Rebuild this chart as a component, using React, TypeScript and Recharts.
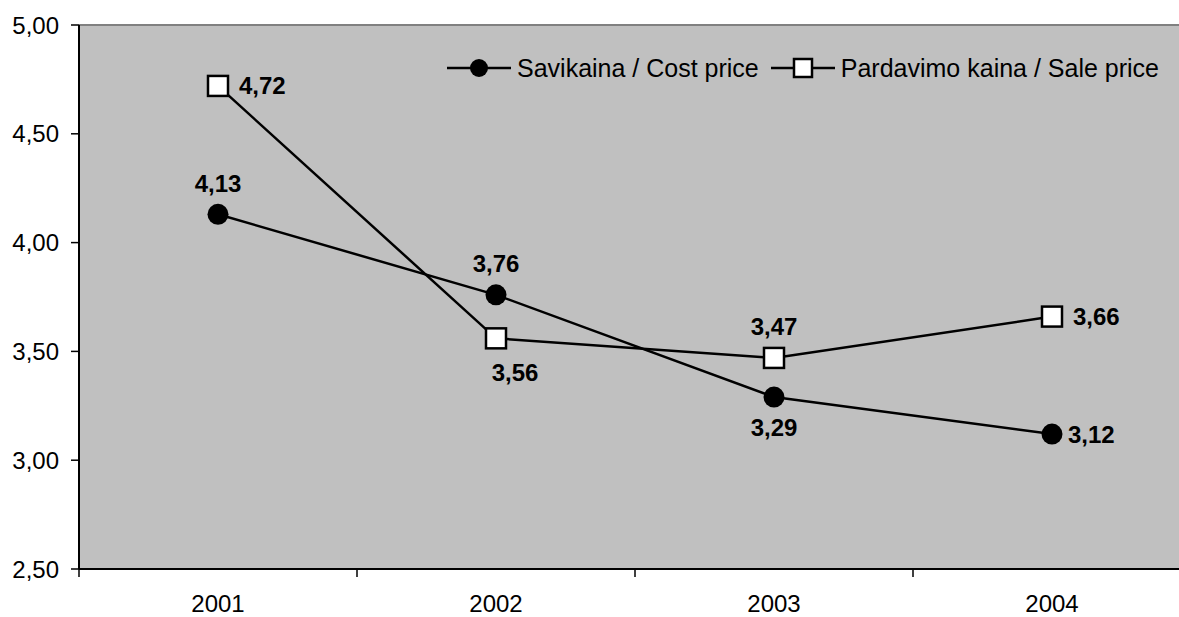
import React from "react";
import {
  LineChart,
  Line,
  XAxis,
  YAxis,
  CartesianGrid,
  ReferenceLine,
  Legend,
  LabelList,
} from "recharts";

const years = ["2001", "2002", "2003", "2004"];
const costPrice = [4.13, 3.76, 3.29, 3.12];
const salePrice = [4.72, 3.56, 3.47, 3.66];
const yTicks = [2.5, 3.0, 3.5, 4.0, 4.5, 5.0];

// where each value label sits relative to its point
const costLabelPos = ["top", "top", "bottom", "right"];
const saleLabelPos = ["right", "bottomRight", "top", "right"];

const data = years.map((year, i) => ({
  year,
  cost: costPrice[i],
  sale: salePrice[i],
}));

const FONT = '"Liberation Sans", Arial, sans-serif';
const fmt = (v: number) => v.toFixed(2).replace(".", ",");

const CostDot = (props: any) => {
  const { cx, cy, index } = props;
  return <circle key={`c-${index}`} cx={cx} cy={cy} r={10.5} fill="#000" />;
};

const SaleDot = (props: any) => {
  const { cx, cy, index } = props;
  return (
    <rect
      key={`s-${index}`}
      x={cx - 10}
      y={cy - 10}
      width={20}
      height={20}
      fill="#fff"
      stroke="#000"
      strokeWidth={2.5}
    />
  );
};

const makeLabel = (positions: string[], side: number) => (props: any) => {
  const { x, y, value, index } = props;
  const pos = positions[index];
  let tx = x;
  let ty = y;
  let anchor: "middle" | "start" = "middle";
  if (pos === "top") ty = y - 31;
  else if (pos === "bottom") ty = y + 30;
  else if (pos === "right") {
    tx = x + side;
    anchor = "start";
  } else if (pos === "bottomRight") {
    tx = x + 19;
    ty = y + 34;
  }
  return (
    <text
      x={tx}
      y={ty}
      textAnchor={anchor}
      dominantBaseline="central"
      fontFamily={FONT}
      fontSize={24}
      fontWeight="bold"
      fill="#000"
    >
      {fmt(value)}
    </text>
  );
};

const XTick = (props: any) => {
  const { x, y, payload, width, visibleTicksCount } = props;
  const half =
    width && visibleTicksCount
      ? width / visibleTicksCount / 2
      : payload.offset || 0;
  const axisY = y - 8 - 16;
  return (
    <g>
      <line
        x1={x - half}
        x2={x - half}
        y1={axisY}
        y2={axisY + 8}
        stroke="#000"
        strokeWidth={1.5}
      />
      <text
        x={x}
        y={axisY + 43}
        textAnchor="middle"
        fontFamily={FONT}
        fontSize={24}
        fill="#000"
      >
        {payload.value}
      </text>
    </g>
  );
};

const LegendContent = () => {
  const item = (marker: React.ReactNode, label: string) => (
    <div style={{ display: "flex", alignItems: "center" }}>
      <svg width={64} height={30}>
        <line x1={0} x2={64} y1={15} y2={15} stroke="#000" strokeWidth={2.5} />
        {marker}
      </svg>
      <span style={{ marginLeft: 6, marginRight: 12 }}>{label}</span>
    </div>
  );
  return (
    <div
      style={{
        display: "flex",
        fontFamily: FONT,
        fontSize: 25,
        color: "#000",
        lineHeight: "30px",
      }}
    >
      {item(<circle cx={32} cy={15} r={9} fill="#000" />, "Savikaina / Cost price")}
      {item(
        <rect x={23} y={6} width={18} height={18} fill="#fff" stroke="#000" strokeWidth={2.5} />,
        "Pardavimo kaina / Sale price"
      )}
    </div>
  );
};

export default function App() {
  return (
    <div
      style={{
        position: "fixed",
        left: 0,
        top: 0,
        width: 1179,
        height: 617,
        overflow: "hidden",
        background: "#fff",
      }}
    >
      <LineChart
        width={1200}
        height={617}
        data={data}
        margin={{ top: 25, right: 9, left: 0, bottom: 0 }}
      >
        <CartesianGrid
          horizontal={false}
          vertical={false}
          fill="#c0c0c0"
          fillOpacity={1}
        />
        <ReferenceLine y={5} stroke="#808080" strokeWidth={2} />
        <XAxis
          dataKey="year"
          height={48}
          padding={{ left: 139, right: 139 }}
          axisLine={{ stroke: "#000", strokeWidth: 2 }}
          tickLine={false}
          tickSize={8}
          tickMargin={16}
          tick={<XTick />}
          interval={0}
        />
        <YAxis
          width={79}
          domain={[2.5, 5]}
          ticks={yTicks}
          tickFormatter={fmt}
          axisLine={{ stroke: "#000", strokeWidth: 2 }}
          tickLine={{ stroke: "#000", strokeWidth: 1.5 }}
          tickSize={8}
          tickMargin={12}
          tick={{ fontFamily: FONT, fontSize: 24, fill: "#000" }}
          allowDataOverflow
        />
        <Legend
          verticalAlign="middle"
          content={<LegendContent />}
          wrapperStyle={{ position: "absolute", left: 447, top: 53, width: "auto" }}
        />
        <Line
          type="linear"
          dataKey="cost"
          name="Savikaina / Cost price"
          stroke="#000"
          strokeWidth={2.5}
          dot={CostDot}
          isAnimationActive={false}
        >
          <LabelList dataKey="cost" content={makeLabel(costLabelPos, 16)} />
        </Line>
        <Line
          type="linear"
          dataKey="sale"
          name="Pardavimo kaina / Sale price"
          stroke="#000"
          strokeWidth={2.5}
          dot={SaleDot}
          isAnimationActive={false}
        >
          <LabelList dataKey="sale" content={makeLabel(saleLabelPos, 21)} />
        </Line>
      </LineChart>
    </div>
  );
}
